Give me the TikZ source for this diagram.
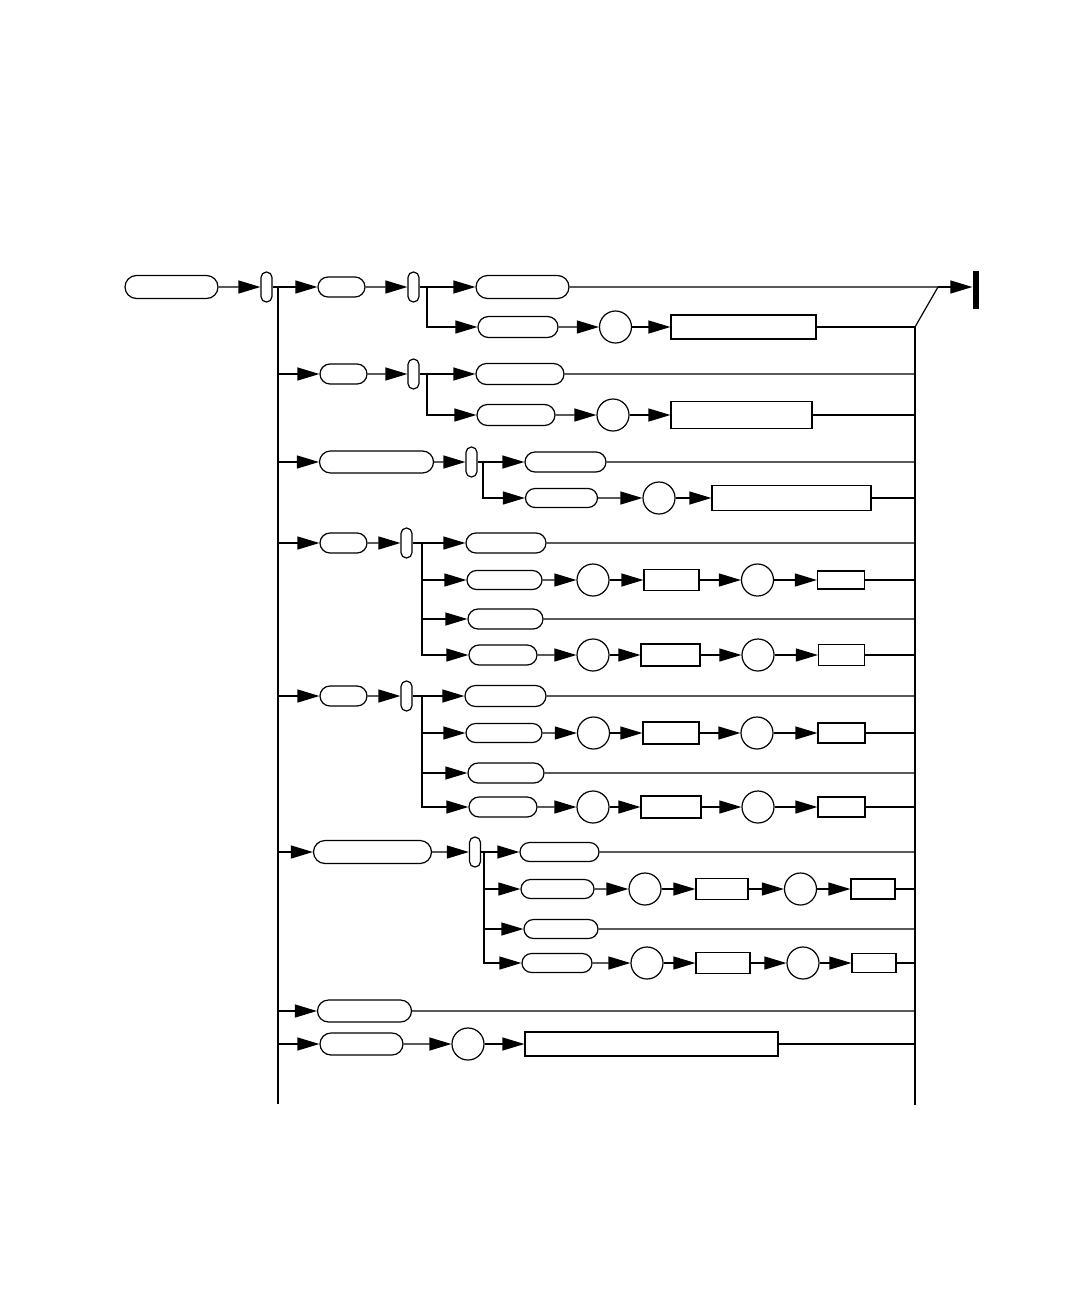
\documentclass[tikz,border=0pt]{standalone}
\usetikzlibrary{arrows.meta,shapes.misc}

\begin{document}
\begin{tikzpicture}[
        x=0.5pt, y=-0.5pt, line width=0.6pt,
        >={Triangle[length=11pt,width=6.5pt]},
        term/.style 2 args={draw, rounded rectangle, minimum width=#1*0.5pt, minimum height=#2*0.5pt, inner sep=0pt},
        field/.style 2 args={draw, rectangle, minimum width=#1*0.5pt, minimum height=#2*0.5pt, inner sep=0pt},
        fork/.style={draw, rounded corners=2.7pt, minimum width=5.5pt, minimum height=15pt, inner sep=0pt},
        op/.style={draw, circle, minimum size=16pt, inner sep=0pt},
        stopbar/.style={fill=black, draw=none, minimum width=3pt, minimum height=19pt, inner sep=0pt}
    ]
        \useasboundingbox (0,0) rectangle (1080,1296);
        \coordinate (mtop) at (278,287);
        \coordinate (mbot) at (278,1104);
        \coordinate (rtop) at (915,327);
        \coordinate (rbot) at (915,1105);
        \coordinate (join) at (938,287);
        \node[stopbar] (stop) at (976,290) {};

        \node[term={93}{23}] (start) at (171.5,287) {};
        \node[fork] (b1) at (266.5,287) {};
        \node[term={47}{20}] (k1) at (341.5,287) {};
        \node[fork] (b1s) at (413.5,287) {};
        \coordinate (s1) at (427,287);
        \node[term={93}{23}] (k1a) at (522.5,287) {};
        \node[term={80}{21}] (k1b) at (518,327) {};
        \node[op] (c1b) at (615.5,327) {};
        \node[field={145}{24}] (x1b) at (743.5,327) {};

        \node[term={47}{20}] (k2) at (343.5,374) {};
        \node[fork] (b2) at (413.5,374) {};
        \coordinate (s2) at (427,374);
        \node[term={88}{21}] (k2a) at (520,374) {};
        \node[term={78}{21}] (k2b) at (516,415) {};
        \node[op] (c2b) at (613,415) {};
        \node[field={141}{27}] (x2b) at (741.5,415) {};

        \node[term={114}{22}] (k3) at (376.5,462) {};
        \node[fork] (b3) at (471.5,462) {};
        \coordinate (s3) at (483,462);
        \node[term={81}{20}] (k3a) at (565.5,462) {};
        \node[term={72}{19}] (k3b) at (561.5,498) {};
        \node[op] (c3b) at (659,498) {};
        \node[field={159}{25}] (x3b) at (791.5,498) {};

        \node[term={47}{20}] (k4) at (343.5,543) {};
        \node[fork] (b4) at (406.5,543) {};
        \coordinate (s4) at (422,543);
        \node[term={80}{20}] (k4a) at (506,543) {};
        \node[term={75}{19}] (k4b) at (504.5,580) {};
        \node[op] (c4b) at (593,580) {};
        \node[field={55}{21}] (x4b) at (671.5,580) {};
        \node[op] (d4b) at (757.5,580) {};
        \node[field={47}{18}] (y4b) at (841,580) {};
        \node[term={75}{20}] (k4c) at (505.5,619) {};
        \node[term={68}{20}] (k4d) at (503,655) {};
        \node[op] (c4d) at (593,655) {};
        \node[field={59}{22}] (x4d) at (670.5,655) {};
        \node[op] (d4d) at (758,655) {};
        \node[field={46}{21}] (y4d) at (841.5,655) {};

        \node[term={47}{20}] (k5) at (343.5,696) {};
        \node[fork] (b5) at (406.5,696) {};
        \coordinate (s5) at (422,696);
        \node[term={81}{21}] (k5a) at (505.5,696) {};
        \node[term={76}{19}] (k5b) at (504,733) {};
        \node[op] (c5b) at (593.5,733) {};
        \node[field={56}{22}] (x5b) at (671,733) {};
        \node[op] (d5b) at (757,733) {};
        \node[field={47}{20}] (y5b) at (841.5,733) {};
        \node[term={76}{20}] (k5c) at (506,773) {};
        \node[term={68}{20}] (k5d) at (503,807) {};
        \node[op] (c5d) at (593,807) {};
        \node[field={60}{22}] (x5d) at (671,807) {};
        \node[op] (d5d) at (758,807) {};
        \node[field={47}{20}] (y5d) at (841.5,807) {};

        \node[term={118}{23}] (k6) at (372.5,852) {};
        \node[fork] (b6) at (475,852) {};
        \coordinate (s6) at (484,852);
        \node[term={79}{19}] (k6a) at (559.5,852) {};
        \node[term={73}{19}] (k6b) at (557.5,889) {};
        \node[op] (c6b) at (645,889) {};
        \node[field={52}{21}] (x6b) at (722,889) {};
        \node[op] (d6b) at (800.5,889) {};
        \node[field={44}{20}] (y6b) at (873,889) {};
        \node[term={74}{19}] (k6c) at (561,929) {};
        \node[term={70}{19}] (k6d) at (557,963) {};
        \node[op] (c6d) at (647,963) {};
        \node[field={54}{21}] (x6d) at (723,963) {};
        \node[op] (d6d) at (803,963) {};
        \node[field={44}{19}] (y6d) at (874,963) {};

        \node[term={94}{22}] (k7) at (364.5,1011) {};
        \node[term={83}{22}] (k8) at (361.5,1044) {};
        \node[op] (c8) at (468,1044) {};
        \node[field={253}{24}] (x8) at (651.5,1044) {};

        \draw (mtop) -- (mbot);
        \draw (rtop) -- (rbot);
        \draw (rtop) -- (join);
        \draw (k1a) -- (join);
        \draw[->] (join) -- (join -| stop.west);

        \draw[->] (start) -- (b1);
        \draw[->] (b1) -- (k1);
        \draw[->] (k1) -- (b1s);
        \draw (b1s) -- (s1);
        \draw[->] (s1) -- (k1a);
        \draw[->] (s1) |- (k1b);
        \draw[->] (k1b) -- (c1b);
        \draw[->] (c1b) -- (x1b);

        \draw[->] (mtop |- k2) -- (k2);
        \draw[->] (k2) -- (b2);
        \draw (b2) -- (s2);
        \draw[->] (s2) -- (k2a);
        \draw[->] (s2) |- (k2b);
        \draw[->] (k2b) -- (c2b);
        \draw[->] (c2b) -- (x2b);

        \draw[->] (mtop |- k3) -- (k3);
        \draw[->] (k3) -- (b3);
        \draw (b3) -- (s3);
        \draw[->] (s3) -- (k3a);
        \draw[->] (s3) |- (k3b);
        \draw[->] (k3b) -- (c3b);
        \draw[->] (c3b) -- (x3b);

        \draw[->] (mtop |- k4) -- (k4);
        \draw[->] (k4) -- (b4);
        \draw (b4) -- (s4);
        \draw[->] (s4) -- (k4a);
        \draw[->] (s4) |- (k4b);
        \draw[->] (s4) |- (k4c);
        \draw[->] (s4) |- (k4d);
        \draw[->] (k4b) -- (c4b);
        \draw[->] (c4b) -- (x4b);
        \draw[->] (x4b) -- (d4b);
        \draw[->] (d4b) -- (y4b);
        \draw[->] (k4d) -- (c4d);
        \draw[->] (c4d) -- (x4d);
        \draw[->] (x4d) -- (d4d);
        \draw[->] (d4d) -- (y4d);

        \draw[->] (mtop |- k5) -- (k5);
        \draw[->] (k5) -- (b5);
        \draw (b5) -- (s5);
        \draw[->] (s5) -- (k5a);
        \draw[->] (s5) |- (k5b);
        \draw[->] (s5) |- (k5c);
        \draw[->] (s5) |- (k5d);
        \draw[->] (k5b) -- (c5b);
        \draw[->] (c5b) -- (x5b);
        \draw[->] (x5b) -- (d5b);
        \draw[->] (d5b) -- (y5b);
        \draw[->] (k5d) -- (c5d);
        \draw[->] (c5d) -- (x5d);
        \draw[->] (x5d) -- (d5d);
        \draw[->] (d5d) -- (y5d);

        \draw[->] (mtop |- k6) -- (k6);
        \draw[->] (k6) -- (b6);
        \draw (b6) -- (s6);
        \draw[->] (s6) -- (k6a);
        \draw[->] (s6) |- (k6b);
        \draw[->] (s6) |- (k6c);
        \draw[->] (s6) |- (k6d);
        \draw[->] (k6b) -- (c6b);
        \draw[->] (c6b) -- (x6b);
        \draw[->] (x6b) -- (d6b);
        \draw[->] (d6b) -- (y6b);
        \draw[->] (k6d) -- (c6d);
        \draw[->] (c6d) -- (x6d);
        \draw[->] (x6d) -- (d6d);
        \draw[->] (d6d) -- (y6d);

        \draw[->] (mtop |- k7) -- (k7);
        \draw[->] (mtop |- k8) -- (k8);
        \draw[->] (k8) -- (c8);
        \draw[->] (c8) -- (x8);

        \foreach \n in {x1b,k2a,x2b,k3a,x3b,k4a,y4b,k4c,y4d,k5a,y5b,k5c,y5d,k6a,y6b,k6c,y6d,k7,x8}
            \draw (\n) -- (\n -| rtop);
    \end{tikzpicture}
\end{document}
